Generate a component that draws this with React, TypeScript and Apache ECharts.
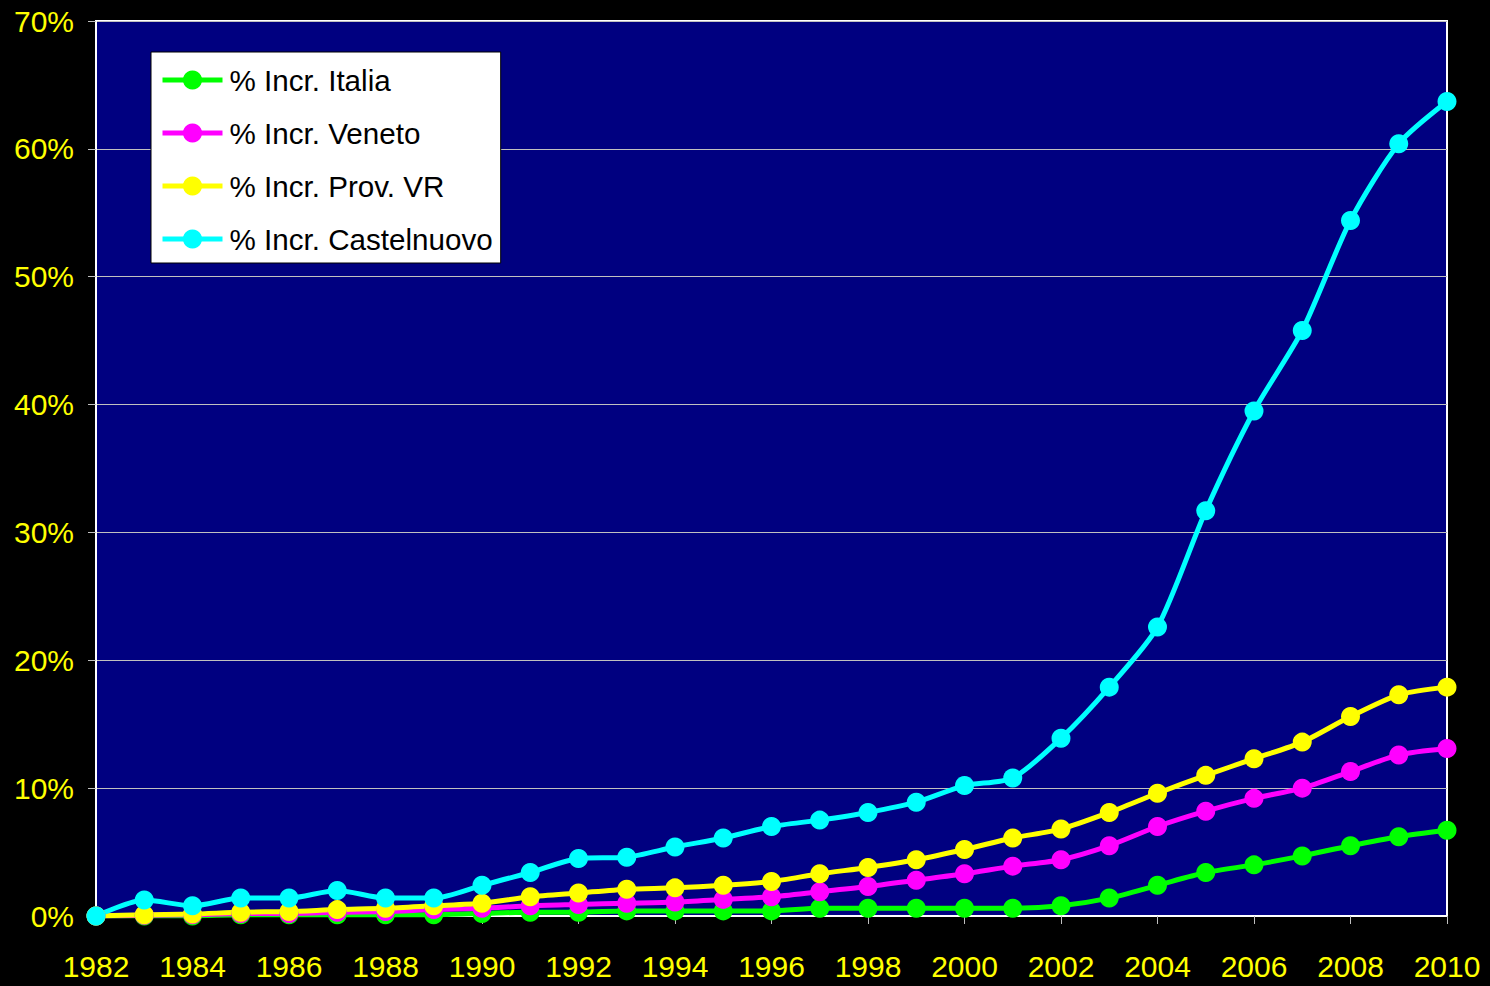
import React, { useEffect, useRef } from "react";
import * as echarts from "echarts";

const years = [
  "1982", "1983", "1984", "1985", "1986", "1987", "1988", "1989", "1990", "1991",
  "1992", "1993", "1994", "1995", "1996", "1997", "1998", "1999", "2000", "2001",
  "2002", "2003", "2004", "2005", "2006", "2007", "2008", "2009", "2010",
];

const italia = [
  0, 0, 0, 0.1, 0.1, 0.1, 0.1, 0.1, 0.2, 0.3,
  0.3, 0.4, 0.4, 0.4, 0.4, 0.6, 0.6, 0.6, 0.6, 0.6,
  0.8, 1.4, 2.4, 3.4, 4.0, 4.7, 5.5, 6.2, 6.7,
];

const veneto = [
  0, 0.05, 0.1, 0.2, 0.2, 0.3, 0.35, 0.5, 0.6, 0.8,
  0.9, 1.0, 1.1, 1.3, 1.5, 1.9, 2.3, 2.8, 3.3, 3.9,
  4.4, 5.5, 7.0, 8.2, 9.2, 10.0, 11.3, 12.6, 13.1,
];

const provVR = [
  0, 0.1, 0.15, 0.3, 0.35, 0.5, 0.6, 0.8, 1.0, 1.5,
  1.8, 2.1, 2.2, 2.4, 2.7, 3.3, 3.8, 4.4, 5.2, 6.1,
  6.8, 8.1, 9.6, 11.0, 12.3, 13.6, 15.6, 17.3, 17.9,
];

const castelnuovo = [
  0, 1.25, 0.8, 1.4, 1.4, 2.0, 1.4, 1.4, 2.4, 3.4,
  4.5, 4.6, 5.4, 6.1, 7.0, 7.5, 8.1, 8.9, 10.2, 10.8,
  13.9, 17.9, 22.6, 31.7, 39.5, 45.8, 54.4, 60.4, 63.7,
];

const seriesNames = [
  "% Incr. Italia",
  "% Incr. Veneto",
  "% Incr. Prov. VR",
  "% Incr. Castelnuovo",
];
const seriesColors = ["#00ff00", "#ff00ff", "#ffff00", "#00ffff"];
const seriesData = [italia, veneto, provVR, castelnuovo];

const FONT = "'Liberation Sans', Arial, sans-serif";

export default function App() {
  const ref = useRef<HTMLDivElement>(null);

  useEffect(() => {
    if (!ref.current) return;
    const chart = echarts.init(ref.current, undefined, { renderer: "svg" });
    chart.setOption({
      animation: false,
      backgroundColor: "#000000",
      textStyle: { fontFamily: FONT },
      grid: {
        left: 96,
        right: 43,
        top: 21,
        bottom: 70,
        show: true,
        backgroundColor: "#000080",
        borderColor: "#ffffff",
        borderWidth: 2,
      },
      legend: {
        orient: "vertical",
        left: 151,
        top: 52,
        backgroundColor: "#ffffff",
        borderColor: "#000000",
        borderWidth: 1,
        padding: [13, 8, 9, 9],
        itemWidth: 60,
        itemHeight: 24,
        itemGap: 23,
        lineStyle: { width: 5 },
        textStyle: {
          color: "#000000",
          fontSize: 29.6,
          fontFamily: FONT,
          padding: [0, 0, 0, 2],
        },
        data: seriesNames,
      },
      xAxis: {
        type: "category",
        data: years,
        boundaryGap: false,
        axisLine: { show: true, lineStyle: { color: "#ffffff", width: 2 } },
        axisTick: {
          show: true,
          interval: 1,
          length: 8,
          lineStyle: { color: "#c0c0c0", width: 1 },
        },
        axisLabel: {
          interval: 1,
          color: "#ffff00",
          fontSize: 30,
          fontFamily: FONT,
          margin: 35,
        },
        splitLine: { show: false },
      },
      yAxis: {
        type: "value",
        min: 0,
        max: 70,
        interval: 10,
        axisLine: { show: true, lineStyle: { color: "#ffffff", width: 2 } },
        axisTick: {
          show: true,
          length: 8,
          lineStyle: { color: "#c0c0c0", width: 1 },
        },
        axisLabel: {
          color: "#ffff00",
          fontSize: 30,
          fontFamily: FONT,
          margin: 22,
          formatter: "{value}%",
        },
        splitLine: { show: true, lineStyle: { color: "#c0c0c0", width: 1 } },
      },
      series: seriesNames.map((name, i) => ({
        name,
        type: "line",
        data: seriesData[i],
        smooth: 0.25,
        symbol: "circle",
        symbolSize: 19,
        showSymbol: true,
        lineStyle: { color: seriesColors[i], width: 5 },
        itemStyle: { color: seriesColors[i] },
        emphasis: { disabled: true },
      })),
    });
    return () => chart.dispose();
  }, []);

  return (
    <div
      ref={ref}
      style={{ position: "fixed", left: 0, top: 0, width: 1490, height: 986 }}
    />
  );
}
